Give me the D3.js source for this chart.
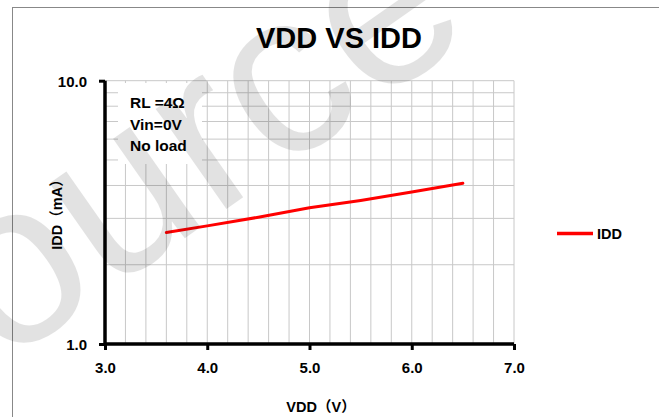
<!DOCTYPE html>
<html>
<head>
<meta charset="utf-8">
<script src="https://cdn.jsdelivr.net/npm/d3@7"></script>
<style>
  body { margin: 0; background: #fff; }
  text { font-family: "Liberation Sans", Arial, "Noto Sans CJK SC", sans-serif; }
</style>
</head>
<body>
<div id="chart"></div>
<script>
// data
const vdd = [3.6, 4.0, 4.5, 5.0, 5.5, 6.0, 6.5];
const idd = [2.65, 2.81, 3.03, 3.29, 3.51, 3.78, 4.08];
const xTicks = [3.0, 4.0, 5.0, 6.0, 7.0];
const yTicks = [1, 10];
const yGrid = [2, 3, 4, 5, 6, 7, 8, 9];
const notes = ["RL =4Ω", "Vin=0V", "No load"];

const width = 659, height = 417;

const svg = d3.select("#chart").append("svg")
    .attr("width", width)
    .attr("height", height);

// outer frame
svg.append("rect")
    .attr("x", 12.5).attr("y", 7.5)
    .attr("width", 680).attr("height", 440)
    .attr("fill", "none")
    .attr("stroke", "#888")
    .attr("stroke-width", 1);

const x = d3.scaleLinear().domain([3, 7]).range([105, 514]);
const y = d3.scaleLog().domain([1, 10]).range([344, 80.7]);

// grid
const xGrid = d3.range(3.2, 7.01, 0.2);
svg.append("g").selectAll("line")
    .data(xGrid)
    .enter().append("line")
    .attr("x1", d => x(d)).attr("x2", d => x(d))
    .attr("y1", y(10)).attr("y2", y(1))
    .attr("stroke", "#c8c8c8").attr("stroke-width", 1);

svg.append("g").selectAll("line")
    .data(yGrid.concat([10]))
    .enter().append("line")
    .attr("x1", x(3)).attr("x2", x(7))
    .attr("y1", d => y(d)).attr("y2", d => y(d))
    .attr("stroke", "#c8c8c8").attr("stroke-width", 1);

// notes box (hides the grid behind it)
svg.append("rect")
    .attr("x", 118).attr("y", 83)
    .attr("width", 84).attr("height", 81)
    .attr("fill", "#fff");

svg.append("g").selectAll("text")
    .data(notes)
    .enter().append("text")
    .attr("x", 130)
    .attr("y", (d, i) => 108 + i * 21.5)
    .attr("font-size", 15.5)
    .attr("font-weight", "bold")
    .text(d => d);

// series
const line = d3.line()
    .x((d, i) => x(vdd[i]))
    .y(d => y(d));

svg.append("path")
    .datum(idd)
    .attr("d", line)
    .attr("fill", "none")
    .attr("stroke", "#ff0000")
    .attr("stroke-width", 3)
    .attr("stroke-linecap", "round");

// axes
const xAxis = d3.axisBottom(x).tickValues(xTicks).tickSize(6).tickFormat(d3.format(".1f"));
const yAxis = d3.axisLeft(y).tickValues(yTicks).tickSize(6).tickFormat(d3.format(".1f"));

const gx = svg.append("g").attr("transform", `translate(0,${y(1)})`).call(xAxis);
const gy = svg.append("g").attr("transform", `translate(${x(3)},0)`).call(yAxis);

[gx, gy].forEach(g => {
    g.select(".domain").attr("stroke", "#000").attr("stroke-width", 3.5);
    g.selectAll(".tick line").attr("stroke", "#000").attr("stroke-width", 3);
    g.selectAll("text")
        .attr("font-size", 15)
        .attr("font-weight", "bold")
        .attr("fill", "#000")
        .style("font-family", "'Liberation Sans', Arial, sans-serif");
});
gx.select(".domain").attr("d", `M${x(3)},0H${x(7)}`);
gy.select(".domain").attr("d", `M0,${y(10)}V${y(1)}`);
gx.selectAll("text").attr("y", 18).attr("dy", "0.71em");
gy.selectAll("text").attr("x", -18).attr("dy", "0.36em");

// titles
svg.append("text")
    .attr("x", 339).attr("y", 48)
    .attr("text-anchor", "middle")
    .attr("font-size", 29)
    .attr("font-weight", "bold")
    .text("VDD VS IDD");

svg.append("text")
    .attr("x", 321).attr("y", 412)
    .attr("text-anchor", "middle")
    .attr("font-size", 14.5)
    .attr("font-weight", "bold")
    .text("VDD（V）");

svg.append("text")
    .attr("transform", "translate(62,211) rotate(-90)")
    .attr("text-anchor", "middle")
    .attr("font-size", 14.5)
    .attr("font-weight", "bold")
    .text("IDD（mA）");

// legend
svg.append("line")
    .attr("x1", 557).attr("x2", 593)
    .attr("y1", 233.5).attr("y2", 233.5)
    .attr("stroke", "#ff0000").attr("stroke-width", 3.5);
svg.append("text")
    .attr("x", 597).attr("y", 238.5)
    .attr("font-size", 14.5)
    .attr("font-weight", "bold")
    .text("IDD");

// watermark
svg.append("text")
    .attr("transform", "translate(-125,455) rotate(-35)")
    .attr("font-size", 232)
    .attr("fill", "#000")
    .attr("opacity", 0.11)
    .style("font-family", "'Liberation Sans', Arial, sans-serif")
    .text("Source");
</script>
</body>
</html>
